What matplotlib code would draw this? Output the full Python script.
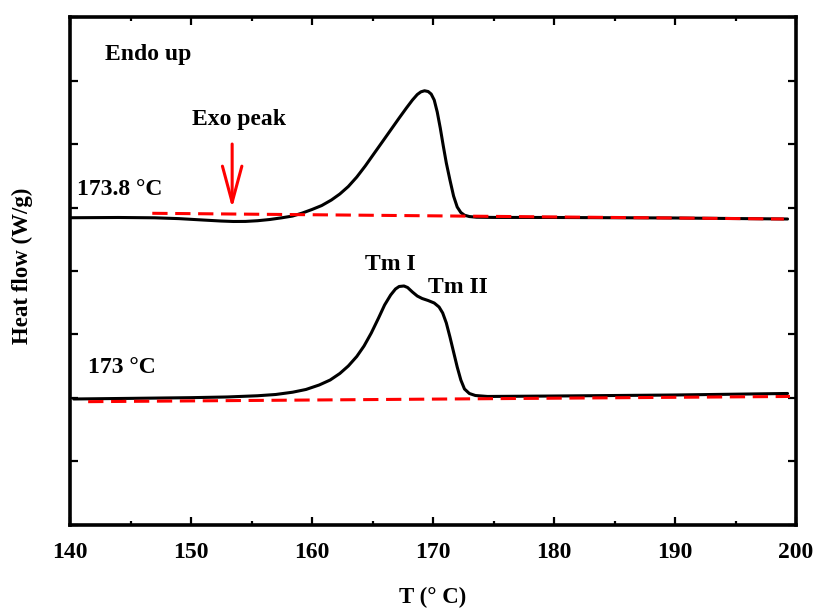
import numpy as np
import matplotlib
matplotlib.use("Agg")
import matplotlib.pyplot as plt
from matplotlib.ticker import MultipleLocator

plt.rcParams['font.family'] = ['Liberation Serif', 'DejaVu Serif']
plt.rcParams['font.weight'] = 'bold'

# upper DSC curve (173.8 °C)
t_upper = [140.0, 144.0, 147.0, 149.0, 151.0, 152.5, 153.5, 154.5, 155.5, 156.5,
           157.5, 158.4, 159.2, 160.0, 160.8, 161.6, 162.3, 163.0, 163.7, 164.4,
           165.1, 165.8, 166.5, 167.2, 167.8, 168.3, 168.7, 169.0, 169.3, 169.6,
           169.85, 170.1, 170.35, 170.6, 170.85, 171.1, 171.4, 171.7, 172.0, 172.3,
           172.6, 173.0, 173.6, 175.0, 180.0, 190.0, 199.3]
hf_upper = [4.839, 4.843, 4.838, 4.825, 4.803, 4.787, 4.780, 4.781, 4.792, 4.811,
            4.838, 4.866, 4.913, 4.969, 5.031, 5.118, 5.213, 5.331, 5.480, 5.654,
            5.843, 6.031, 6.220, 6.409, 6.567, 6.693, 6.780, 6.822, 6.839, 6.827,
            6.787, 6.693, 6.504, 6.252, 5.969, 5.701, 5.433, 5.181, 5.008, 4.921,
            4.879, 4.858, 4.847, 4.844, 4.843, 4.835, 4.819]

# lower DSC curve (173 °C)
t_lower = [140.3, 145.0, 150.0, 153.0, 155.5, 157.0, 158.4, 159.5, 160.6, 161.5,
           162.3, 163.0, 163.7, 164.3, 164.9, 165.5, 166.0, 166.5, 166.9, 167.2,
           167.6, 167.9, 168.3, 168.7, 169.1, 169.6, 170.1, 170.5, 170.8, 171.1,
           171.4, 171.7, 172.0, 172.3, 172.6, 173.0, 173.5, 174.5, 180.0, 190.0, 199.3]
hf_lower = [1.984, 1.994, 2.005, 2.016, 2.035, 2.055, 2.091, 2.134, 2.205, 2.283,
            2.386, 2.504, 2.654, 2.819, 3.024, 3.260, 3.465, 3.622, 3.717, 3.756,
            3.764, 3.740, 3.669, 3.606, 3.567, 3.535, 3.496, 3.433, 3.339, 3.181,
            2.961, 2.724, 2.488, 2.283, 2.142, 2.071, 2.039, 2.024, 2.031, 2.047, 2.071]

# baselines
base_upper_t = [146.8, 199.0]
base_upper_hf = [4.909, 4.819]
base_lower_t = [141.5, 199.5]
base_lower_hf = [1.942, 2.024]

fig = plt.figure(figsize=(8.15, 6.09), dpi=100)
ax = fig.add_axes([0.0859, 0.138, 0.8908, 0.834])

ax.plot(t_upper, hf_upper, color='black', lw=2.2, solid_capstyle='round', solid_joinstyle='round')
ax.plot(t_lower, hf_lower, color='black', lw=2.2, solid_capstyle='round', solid_joinstyle='round')
ax.plot(base_upper_t, base_upper_hf, color='red', lw=2.2, dashes=(5, 2.5))
ax.plot(base_lower_t, base_lower_hf, color='red', lw=2.2, dashes=(5, 2.5))

ax.set_xlim(140, 200)
ax.set_ylim(0, 8)
ax.xaxis.set_major_locator(MultipleLocator(10))
ax.xaxis.set_minor_locator(MultipleLocator(5))
ax.yaxis.set_major_locator(MultipleLocator(1))
ax.set_yticklabels([])
ax.tick_params(which='both', direction='in', top=True, right=True, width=1.6)
ax.tick_params(which='major', length=6, labelsize=17, pad=12)
ax.tick_params(which='minor', length=3)
for lab in ax.get_xticklabels():
    lab.set_fontweight('bold')
for s in ax.spines.values():
    s.set_linewidth(2.6)

ax.set_xlabel('T (° C)', fontsize=16.5, fontweight='bold')
ax.xaxis.set_label_coords(0.5, -0.121)
ax.set_ylabel('Heat flow (W/g)', fontsize=16.5, fontweight='bold')
ax.yaxis.set_label_coords(-0.051, 0.51)

ax.text(0.048, 0.915, 'Endo up', transform=ax.transAxes, fontsize=17, fontweight='bold')
ax.text(140.6, 5.197, '173.8 °C', fontsize=17, fontweight='bold')
ax.text(141.5, 2.394, '173 °C', fontsize=17, fontweight='bold')
ax.text(154.0, 6.299, 'Exo peak', fontsize=17, fontweight='bold', ha='center')
ax.text(166.45, 4.016, 'Tm I', fontsize=17, fontweight='bold', ha='center')
ax.text(172.07, 3.654, 'Tm II', fontsize=17, fontweight='bold', ha='center')

ax.annotate('', xy=(153.4, 4.99), xytext=(153.4, 6.0),
            arrowprops=dict(arrowstyle='->,head_length=2.6,head_width=0.7',
                            color='red', lw=2.2, shrinkA=0, shrinkB=0))

fig.savefig('out.png', dpi=100)
